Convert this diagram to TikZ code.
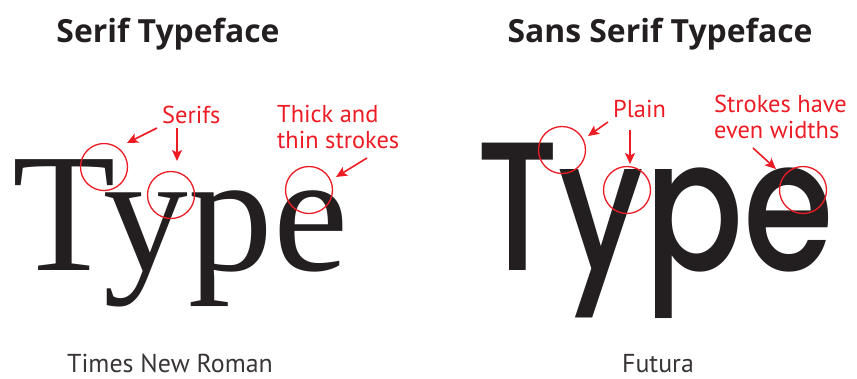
\documentclass[tikz,border=0pt]{standalone}
\usepackage{fontspec}
\setmainfont{PT Sans}
\newfontfamily\headfont{Open Sans}
\newfontfamily\serifT{Liberation Serif}
\newfontfamily\sansT{Poppins Medium}
\usetikzlibrary{arrows.meta}
\definecolor{hred}{HTML}{ED1C24}
\definecolor{ink}{HTML}{231F20}
\begin{document}
\begin{tikzpicture}[x=1bp,y=-1bp,
  heading/.style={font=\fontsize{32}{36}\headfont\bfseries, text=ink, inner sep=0, anchor=base},
  bigserif/.style={font=\fontsize{170}{170}\serifT, text=ink, inner sep=0, anchor=base west},
  bigsans/.style={font=\fontsize{184}{184}\sansT, text=ink, inner sep=0, anchor=base west},
  note/.style={font=\fontsize{24.5}{25.5}\selectfont, text=hred, inner sep=0, anchor=base west, align=left},
  ring/.style={draw=hred, line width=1.3bp, circle, inner sep=0, minimum size=47bp},
  pointer/.style={draw=hred, line width=1.6bp, -{Stealth[length=11bp,width=10bp,inset=2.5bp]}},
  caption/.style={font=\fontsize{26}{27}\selectfont, text=ink!90, inner sep=0, anchor=base}]
\useasboundingbox (0,0) rectangle (857,378);
% titles
\node[heading] (t1) at (168,42) {Serif Typeface};
\node[heading] (t2) at (660,42) {Sans Serif Typeface};
% big words
\node[bigserif] (w1) at (12,270) {Type};
\node[bigsans] (w2) at (476,270) {\scalebox{0.8}[1]{Type}};
% rings
\node[ring] (c1) at (104,167) {};
\node[ring] (c2) at (171,195) {};
\node[ring] (c3) at (309,190) {};
\node[ring] (c4) at (562,150) {};
\node[ring] (c5) at (627,190) {};
\node[ring] (c6) at (803,190) {};
% notes
\node[note] (n1) at (162,123) {Serifs};
\node[note] (n2) at (277,148) {Thick and\\thin strokes};
\node[note] (n3) at (613,117) {Plain};
\node[note] (n4) at (714,138) {Strokes have\\even widths};
% arrows
\coordinate (a1s) at (157,128); \coordinate (a1e) at (127,143);
\coordinate (a2s) at (177,128); \coordinate (a2e) at (177,161);
\coordinate (a3s) at (367,158); \coordinate (a3e) at (336,177);
\coordinate (a4s) at (608,122); \coordinate (a4e) at (588,136);
\coordinate (a5s) at (630,130); \coordinate (a5e) at (630,164);
\coordinate (a6s) at (753,148); \coordinate (a6e) at (776,169);
\draw[pointer] (a1s) -- (a1e);
\draw[pointer] (a2s) -- (a2e);
\draw[pointer] (a3s) -- (a3e);
\draw[pointer] (a4s) -- (a4e);
\draw[pointer] (a5s) -- (a5e);
\draw[pointer] (a6s) -- (a6e);
% captions
\node[caption] (f1) at (170,372) {Times New Roman};
\node[caption] (f2) at (658,372) {Futura};
\end{tikzpicture}
\end{document}
